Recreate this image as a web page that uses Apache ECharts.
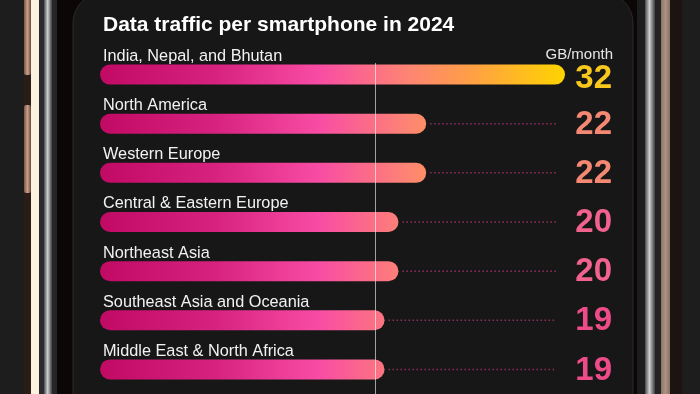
<!DOCTYPE html>
<html><head><meta charset="utf-8">
<script src="https://cdn.jsdelivr.net/npm/echarts@6/dist/echarts.min.js"></script>
<style>html,body{margin:0;padding:0;background:#1d1d1d;}#c{width:700px;height:394px;}</style>
</head><body><div id="c"></div>
<script>
const chartTitle = 'Data traffic per smartphone in 2024';
const unitLabel = 'GB/month';
const regions = ['India, Nepal, and Bhutan','North America','Western Europe','Central & Eastern Europe','Northeast Asia','Southeast Asia and Oceania','Middle East & North Africa'];
const traffic = [32, 22, 22, 20, 20, 19, 19];
const valueColors = ['#f8c81c','#f48872','#f48872','#f2628e','#f2628e','#ee4c88','#ee4c88'];
const referenceValue = 18.3;

const FONT = '"Liberation Sans", Arial, Helvetica, sans-serif';
const chart = echarts.init(document.getElementById('c'), null, {renderer: 'canvas'});

function vgrad(x, w, stops) {
  return {type: 'rect', z: -10, shape: {x: x, y: 0, width: w, height: 394},
    style: {fill: new echarts.graphic.LinearGradient(0, 0, 1, 0, stops)}};
}
function solid(x, y, w, h, c) {
  return {type: 'rect', z: -10, shape: {x: x, y: y, width: w, height: h}, style: {fill: c}};
}
const metal = [{offset: 0, color: '#4a4a4e'}, {offset: 0.45, color: '#cfcfd2'}, {offset: 1, color: '#3c3c3e'}];
const copper = [{offset: 0, color: '#7a5644'}, {offset: 0.5, color: '#c8a08a'}, {offset: 1, color: '#6a4a3a'}];

const decorations = [
  solid(0, 0, 700, 394, '#1d1d1d'),
  solid(24, 0, 7, 394, '#2a1d15'),
  {type: 'rect', z: -9, shape: {x: 24, y: -5, width: 7, height: 80, r: 2}, style: {fill: new echarts.graphic.LinearGradient(0,0,1,0,copper)}},
  {type: 'rect', z: -9, shape: {x: 24, y: 105, width: 7, height: 88, r: 2}, style: {fill: new echarts.graphic.LinearGradient(0,0,1,0,copper)}},
  solid(31, 0, 8, 394, '#fbf3df'),
  solid(39, 0, 5, 394, '#2c2a30'),
  vgrad(44, 8, metal),
  solid(52, 0, 5, 394, '#262628'),
  solid(57, 0, 580, 394, '#0d0607'),
  vgrad(645, 10, metal),
  solid(655, 0, 6, 394, '#232323'),
  vgrad(661, 9, [{offset: 0, color: '#8e7666'}, {offset: 0.5, color: '#ab9282'}, {offset: 1, color: '#8a7262'}]),
  solid(670, 0, 12, 394, '#1b1410'),
  {type: 'rect', z: -8, shape: {x: 73, y: -7, width: 560, height: 440, r: 30},
    style: {fill: '#171717', stroke: '#2a2a2a', lineWidth: 1}},
  {type: 'text', z: 5, style: {text: chartTitle, x: 103, y: 36, fill: '#ffffff',
    font: 'bold 21px ' + FONT, textAlign: 'left', textVerticalAlign: 'bottom', align: 'left', verticalAlign: 'bottom'}},
  {type: 'text', z: 5, style: {text: unitLabel, x: 613, y: 62, fill: '#e6e6e6',
    font: '15px ' + FONT, textAlign: 'right', textVerticalAlign: 'bottom', align: 'right', verticalAlign: 'bottom'}}
];

const maxValue = Math.max.apply(null, traffic);

chart.setOption({
  animation: false,
  backgroundColor: 'transparent',
  grid: {left: 100, right: 135, top: 50, height: 345},
  xAxis: {type: 'value', min: -1.5, max: maxValue, show: false},
  yAxis: {type: 'category', data: regions, inverse: true, show: false},
  graphic: decorations,
  series: [
    {
      type: 'custom',
      z: 3,
      data: traffic.map((v, i) => [v, i]),
      encode: {x: 0, y: 1},
      renderItem: function (params, api) {
        const v = api.value(0);
        const idx = api.value(1);
        const cs = params.coordSys;
        const p = api.coord([v, idx]);
        const gx0 = cs.x;
        const gx1 = api.coord([maxValue, idx])[0];
        const y = p[1];
        const h = 20;
        const grad = new echarts.graphic.LinearGradient(gx0, 0, gx1, 0, [
          {offset: 0, color: '#c00a64'},
          {offset: 0.25, color: '#d82280'},
          {offset: 0.47, color: '#f84ca4'},
          {offset: 0.66, color: '#fd8474'},
          {offset: 0.8, color: '#ffa045'},
          {offset: 1, color: '#ffd400'}
        ], true);
        const children = [
          {type: 'rect', shape: {x: gx0, y: y - h / 2, width: p[0] - gx0, height: h, r: h / 2},
            style: {fill: grad}},
          {type: 'text', style: {text: regions[idx], x: gx0 + 3, y: y - 10, fill: '#f2f2f2',
            font: '16.3px ' + FONT, textAlign: 'left', textVerticalAlign: 'bottom', align: 'left', verticalAlign: 'bottom'}},
          {type: 'text', style: {text: String(traffic[idx]), x: cs.x + cs.width + 47, y: y + 1 + (idx === 0 ? 3 : 0), fill: valueColors[idx],
            font: 'bold 33px ' + FONT, textAlign: 'right', textVerticalAlign: 'middle', align: 'right', verticalAlign: 'middle'}}
        ];
        const dx1 = p[0] + 4, dx2 = cs.x + cs.width - 9;
        if (dx2 > dx1 + 4) {
          children.push({type: 'line', shape: {x1: dx1, y1: y, x2: dx2, y2: y},
            style: {stroke: '#8e2e5e', lineWidth: 1.5, lineDash: [1.5, 2.5]}});
        }
        return {type: 'group', children: children};
      }
    },
    {
      type: 'custom',
      z: 4,
      data: [[referenceValue, 0]],
      encode: {x: 0, y: 1},
      renderItem: function (params, api) {
        const cs = params.coordSys;
        const x = Math.round(api.coord([api.value(0), 0])[0]) + 0.5;
        return {type: 'line', shape: {x1: x, y1: cs.y + 13, x2: x, y2: cs.y + cs.height},
          style: {stroke: 'rgba(255,255,255,0.6)', lineWidth: 1}};
      }
    }
  ]
});
</script>
</body></html>
